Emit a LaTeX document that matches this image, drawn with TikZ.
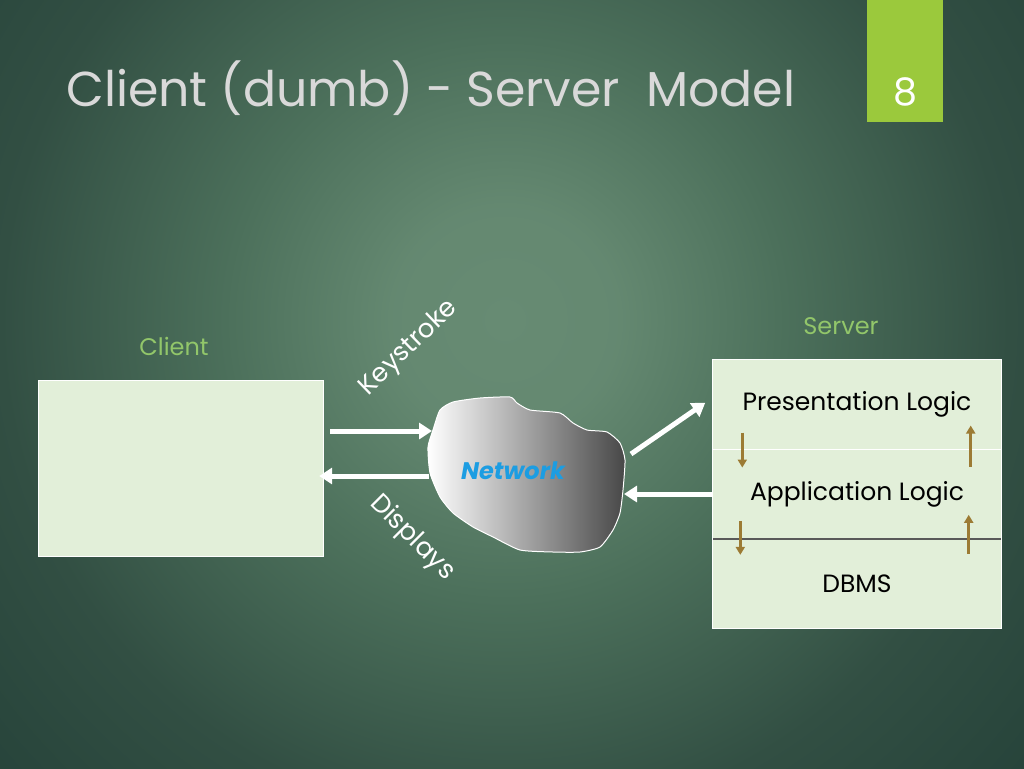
\documentclass[tikz,border=0pt]{standalone}
\usepackage{fontspec}
\setmainfont{Poppins}
\usetikzlibrary{arrows.meta}
\definecolor{bginner}{HTML}{678B73}
\definecolor{bgmid}{HTML}{4C705B}
\definecolor{bgouter}{HTML}{324F43}
\definecolor{bgedge}{HTML}{26433A}
\definecolor{pagegreen}{HTML}{9BC93C}
\definecolor{pale}{HTML}{E2EFD9}
\definecolor{labelgreen}{HTML}{92C66A}
\definecolor{netblue}{HTML}{1C9DE2}
\definecolor{ochre}{HTML}{9C7B34}
\pgfdeclareradialshading{slidebg}{\pgfpoint{0bp}{0bp}}{color(0bp)=(bginner); color(4bp)=(bginner!90!bgmid); color(10bp)=(bgmid); color(18bp)=(bgouter); color(25bp)=(bgedge); color(50bp)=(bgedge)}
\begin{document}
\begin{tikzpicture}[x=1pt, y=-1pt, every node/.style={font=\fontsize{25}{30}\selectfont}]
  \tikzset{
    layer/.style={fill=pale, minimum width=289pt, minimum height=89.3pt, inner sep=0pt},
    wire/.style={white, line width=5pt, -{Triangle[length=13pt,width=16pt]}},
    flow/.style={ochre, line width=3pt, -{Triangle[length=8pt,width=9pt]}}
  }
  % background
  \useasboundingbox (0,0) rectangle (1024,768);
  \begin{scope}
    \clip (0,0) rectangle (1024,768);
    \shade[shading=slidebg] (505,320) circle (700);
  \end{scope}
  % title and page number
  \fill[pagegreen] (867,0) rectangle (943,122);
  \node[white, font=\fontsize{38}{40}\selectfont] (page) at (905,92) {8};
  \node[anchor=base west, text=black!15, font=\fontsize{49}{56}\selectfont, inner sep=0pt] (title) at (66,106) {Client (dumb) - Server\ \ Model};
  % client
  \node[labelgreen, font=\fontsize{24}{28}\selectfont] (clientlbl) at (174,346) {Client};
  \node[fill=pale, draw=white!80, minimum width=285pt, minimum height=176pt] (client) at (180.5,468) {};
  % server
  \node[labelgreen, font=\fontsize{24}{28}\selectfont] (serverlbl) at (841,326) {Server};
  \node[layer] (pres) at (857,404.7) {Presentation Logic};
  \node[layer] (app) at (857,494) {Application Logic};
  \node[layer] (dbms) at (857,583.3) {DBMS};
  \draw[white!75, line width=1pt] (pres.south west) -- (pres.south east);
  \draw[black!65, line width=2pt] (app.south west) -- (app.south east);
  \draw[white!85, line width=1pt] (pres.north west) rectangle (dbms.south east);
  \draw[flow] ([xshift=30pt,yshift=17pt]pres.south west) -- ([xshift=30pt,yshift=-18pt]pres.south west);
  \draw[flow] ([xshift=-31pt,yshift=-17pt]pres.south east) -- ([xshift=-31pt,yshift=24pt]pres.south east);
  \draw[flow] ([xshift=28pt,yshift=18pt]app.south west) -- ([xshift=28pt,yshift=-16pt]app.south west);
  \draw[flow] ([xshift=-33pt,yshift=-15pt]app.south east) -- ([xshift=-33pt,yshift=24pt]app.south east);
  % network cloud
  \shade[left color=white, right color=black!72, draw=white, line width=1pt]
    plot[smooth cycle, tension=0.35] coordinates {
      (440,410) (453,402) (480,398) (510,397) (517,403) (530,410) (560,413)
      (573,423) (587,430) (607,432) (620,443) (625,460) (623,490) (620,513)
      (613,530) (600,547) (580,552) (553,552) (520,550) (493,537) (473,527)
      (453,513) (440,497) (430,473) (428,447) (433,430)};
  \node[netblue, font=\fontsize{24}{28}\selectfont\bfseries\itshape] (net) at (513,471) {Network};
  \coordinate (netK) at (432,431);
  \coordinate (netD) at (429,476);
  \coordinate (netP) at (631,454);
  \coordinate (netA) at (624,494);
  % connectors
  \draw[wire] ([xshift=7pt]client.east |- netK) -- (netK);
  \draw[wire] (netD) -- ([xshift=-4pt]client.east |- netD);
  \draw[wire] (netP) -- ([xshift=-7pt,yshift=2pt]pres.west);
  \draw[wire] (app.west) -- (netA);
  \node[white, font=\fontsize{26}{30}\selectfont, rotate=44] (keys) at (409,348) {Keystroke};
  \node[white, font=\fontsize{26}{30}\selectfont, rotate=-45] (disp) at (412,538) {Displays};
\end{tikzpicture}
\end{document}
